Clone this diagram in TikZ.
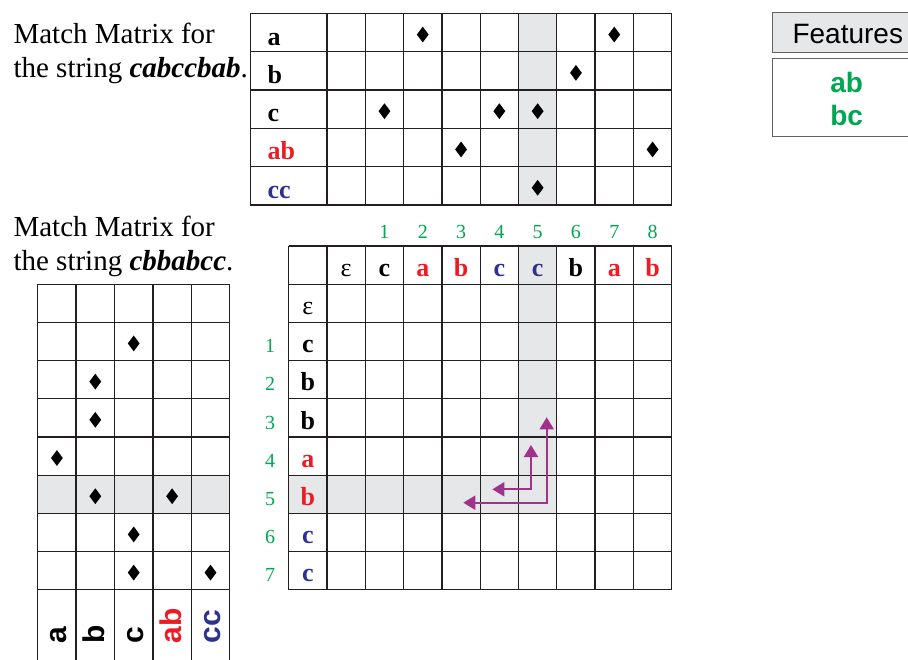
\documentclass[tikz,border=0pt]{standalone}
\usepackage{fontspec}
\setmainfont{Liberation Serif}
\setsansfont{Liberation Sans}
\usetikzlibrary{shapes.geometric,arrows.meta}
\definecolor{mred}{RGB}{237,28,36}
\definecolor{mblue}{RGB}{46,49,146}
\definecolor{mgreen}{RGB}{0,166,81}
\definecolor{mgray}{RGB}{230,231,232}
\definecolor{mline}{RGB}{35,31,32}
\definecolor{mpurple}{RGB}{160,50,140}
\tikzset{
  gridline/.style={mline,line width=1.3pt},
  gem/.style={diamond,fill=black,inner sep=0pt,minimum width=12pt,minimum height=16pt},
  lbl/.style={anchor=base,font=\fontsize{26}{26}\selectfont\bfseries},
  eps/.style={anchor=base,font=\fontsize{26}{26}\selectfont},
  num/.style={anchor=base,text=mgreen,font=\fontsize{20}{20}\selectfont},
  caption/.style={anchor=base west,font=\fontsize{29}{29}\selectfont},
  feat/.style={font=\fontsize{28}{28}\selectfont\sffamily},
  vlbl/.style={anchor=base west,rotate=90,font=\fontsize{30}{30}\selectfont\sffamily\bfseries},
  flow/.style={mpurple,line width=2pt,{Triangle[length=12pt,width=14pt]}-{Triangle[length=12pt,width=14pt]}}
}
\begin{document}
\begin{tikzpicture}[x=1pt,y=-1pt]
\useasboundingbox (0,0) rectangle (908,659);
\clip (0,0) rectangle (908,659);
\fill[white] (0,0) rectangle (908,659);
% captions
\node[caption] (cap1a) at (10,43) {Match Matrix for};
\node[caption] (cap1b) at (10,77) {the string \textbf{\textit{cabccbab}}.};
\node[caption] (cap2a) at (10,236.7) {Match Matrix for};
\node[caption] (cap2b) at (10,270) {the string \textbf{\textit{cbbabcc}}.};
% top matrix
\fill[mgray] (518.5,13.5) rectangle (556.8,205);
\foreach \i in {0,2,3,...,11} \draw[gridline] ({250.4+\i*38.3},13.5) -- ({250.4+\i*38.3},205);
\foreach \j in {0,...,5} \draw[gridline] (250.4,{13.5+\j*38.3}) -- (671.7,{13.5+\j*38.3});
\foreach \ch/\col [count=\r from 0] in {a/black,b/black,c/black,ab/mred,cc/mblue}
  \node[lbl,anchor=base west,text=\col] (tl-\r) at (264,{13.5+\r*38.3+31.5}) {\ch};
\foreach \r/\p in {0/2,0/7,1/6,2/1,2/4,2/5,3/3,3/8,4/5}
  \node[gem] (tg-\r-\p) at ({250.4+(\p+2.5)*38.3},{13.5+(\r+0.55)*38.3}) {};
% features box
\draw[mline!70,line width=1.2pt,fill=mgray] (772.7,12.7) rectangle (930,52.3);
\node[feat,anchor=base west] (feathead) at (789,43.3) {Features};
\draw[mline!70,line width=1.2pt] (772.7,58.3) rectangle (930,136.7);
\node[feat,font=\fontsize{28}{33}\selectfont\sffamily\bfseries,text=mgreen,align=center] (featlist) at (846.7,99) {ab\\bc};
% big matrix
\fill[mgray] (518.5,246) rectangle (556.8,513.4);
\fill[mgray] (288.7,475.2) rectangle (556.8,513.4);
\foreach \i in {0,...,10} \draw[gridline] ({288.7+\i*38.3},246) -- ({288.7+\i*38.3},589.8);
\foreach \j in {0,...,9} \draw[gridline] (288.7,{246+\j*38.2}) -- (671.7,{246+\j*38.2});
\node[eps] (hd-0) at (346.2,276.5) {ε};
\node[eps] (rw-0) at (307.85,314.5) {ε};
\foreach \ch/\col [count=\p] in {c/black,a/mred,b/mred,c/mblue,c/mblue,b/black,a/mred,b/mred}{
  \node[lbl,text=\col] (hd-\p) at ({288.7+(\p+1.5)*38.3},276.5) {\ch};
  \node[num] (cn-\p) at ({288.7+(\p+1.5)*38.3},238.3) {\p};
}
\foreach \ch/\col [count=\r] in {c/black,b/black,b/black,a/mred,b/mred,c/mblue,c/mblue}{
  \node[lbl,text=\col] (rw-\r) at (307.85,{246+(\r+1)*38.2+30.3}) {\ch};
  \node[num] (rn-\r) at (270,{246+(\r+1)*38.2+30.3}) {\r};
}
\coordinate (outer-left) at (463.3,502.7);
\coordinate (outer-bend) at (546.7,502.7);
\coordinate (outer-up) at (546.7,417.3);
\coordinate (inner-left) at (492.3,489.3);
\coordinate (inner-bend) at (531,489.3);
\coordinate (inner-up) at (531,445);
\draw[flow] (outer-left) -- (outer-bend) -- (outer-up);
\draw[flow] (inner-left) -- (inner-bend) -- (inner-up);
% left matrix
\fill[mgray] (37.7,475.2) rectangle (229.7,513.4);
\foreach \i in {0,...,5} \draw[gridline] ({37.7+\i*38.4},284.2) -- ({37.7+\i*38.4},670);
\foreach \j in {0,...,8} \draw[gridline] (37.7,{284.2+\j*38.2}) -- (229.7,{284.2+\j*38.2});
\foreach \r/\c in {1/2,2/1,3/1,4/0,5/1,5/3,6/2,7/2,7/4}
  \node[gem] (lg-\r-\c) at ({37.7+(\c+0.5)*38.4},{284.2+(\r+0.55)*38.2}) {};
\foreach \ch/\col [count=\c from 0] in {a/black,b/black,c/black,ab/mred,cc/mblue}
  \node[vlbl,text=\col] (cl-\c) at ({37.7+(\c+0.5)*38.4+9.5},647) {\ch};
\end{tikzpicture}
\end{document}
